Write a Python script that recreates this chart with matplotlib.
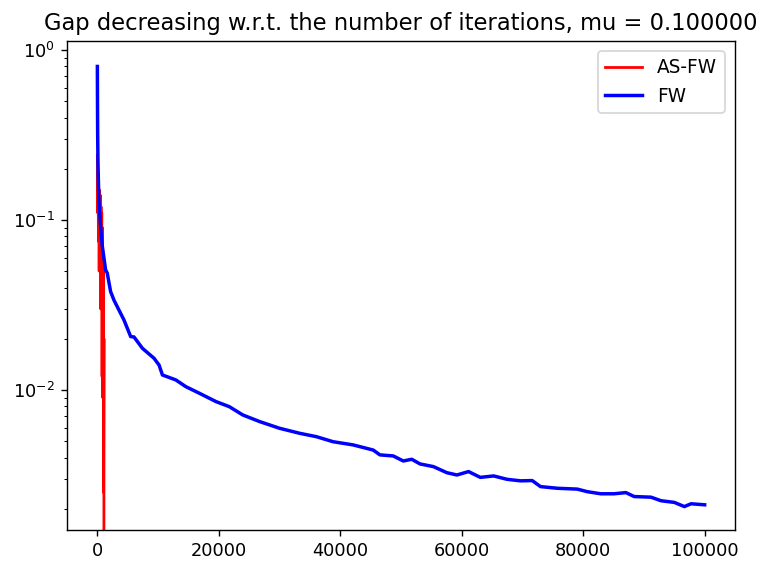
import matplotlib
matplotlib.use('Agg')
import matplotlib.pyplot as plt

# Configurações da figura
DPI = 125
FIG_W, FIG_H = 758, 566
OUTPUT_PATH_PNG = 'out.png'

MU = 0.1

# AS-FW: gap (converge antes de ~1100 iterações, último valor <= 0)
asfw_iter = [0, 60, 120, 180, 240, 300, 360, 420, 480, 540, 600, 660, 720,
             780, 840, 900, 960, 1020, 1080, 1100]
asfw_gap = [0.24, 0.11, 0.19, 0.075, 0.15, 0.05, 0.15, 0.09, 0.14, 0.03,
            0.12, 0.045, 0.11, 0.012, 0.09, 0.009, 0.06, 0.0025, 0.02, 0.0]

# FW: gap
fw_iter = [0, 20, 50, 100, 150, 248, 500, 793, 1355, 1620, 2182, 2727, 3273,
           4380, 5488, 6033, 7405, 9339, 10165, 10711, 12926, 14579, 16777,
           19537, 21736, 23934, 26744, 30000, 33306, 36066, 38810, 42116,
           45421, 46529, 48727, 50380, 51768, 53140, 55339, 57553, 59206,
           61124, 63058, 65256, 67471, 69669, 71603, 72975, 75736, 79041,
           80694, 82893, 85091, 87025, 88397, 91157, 92810, 95008, 96661,
           97769, 100000]
fw_gap = [0.80, 0.50, 0.32, 0.22, 0.18, 0.131, 0.095, 0.071, 0.0508, 0.0488,
          0.0379, 0.0338, 0.0309, 0.0258, 0.0206, 0.0205, 0.0176, 0.01535,
          0.0140, 0.01225, 0.01145, 0.01045, 0.00957, 0.00854, 0.00797,
          0.00713, 0.00651, 0.00595, 0.00556, 0.00531, 0.00496, 0.00475,
          0.00443, 0.00415, 0.00409, 0.00382, 0.00391, 0.00367, 0.00354,
          0.00326, 0.00316, 0.00331, 0.00306, 0.00312, 0.00298, 0.00292,
          0.00293, 0.00270, 0.00264, 0.00261, 0.00252, 0.00245, 0.00245,
          0.00249, 0.00236, 0.00234, 0.00223, 0.00218, 0.00206, 0.00214,
          0.00211]


def plot_gap():
    fig = plt.figure(figsize=(FIG_W / DPI, FIG_H / DPI), dpi=DPI)
    # posição dos eixos em pixels: esquerda 67, direita 735, topo 40.7, base 530
    ax = fig.add_axes([67 / FIG_W, (FIG_H - 530) / FIG_H,
                       (735 - 67) / FIG_W, (530 - 40.7) / FIG_H])

    ax.plot(asfw_iter, asfw_gap, color='red', lw=1.6, label='AS-FW')
    ax.plot(fw_iter, fw_gap, color='blue', lw=2.0, label='FW')
    ax.set_yscale('log')
    ax.set_xlim(-5000, 105000)
    ax.set_ylim(1.50e-3, 1.134)
    ax.tick_params(labelsize=10.2)
    ax.set_title('Gap decreasing w.r.t. the number of iterations, mu = %f' % MU,
                 fontsize=13)
    ax.legend(loc='upper right', fontsize=10.7, borderaxespad=0.55)

    fig.savefig(OUTPUT_PATH_PNG, dpi=DPI)
    plt.close(fig)


if __name__ == '__main__':
    plot_gap()
